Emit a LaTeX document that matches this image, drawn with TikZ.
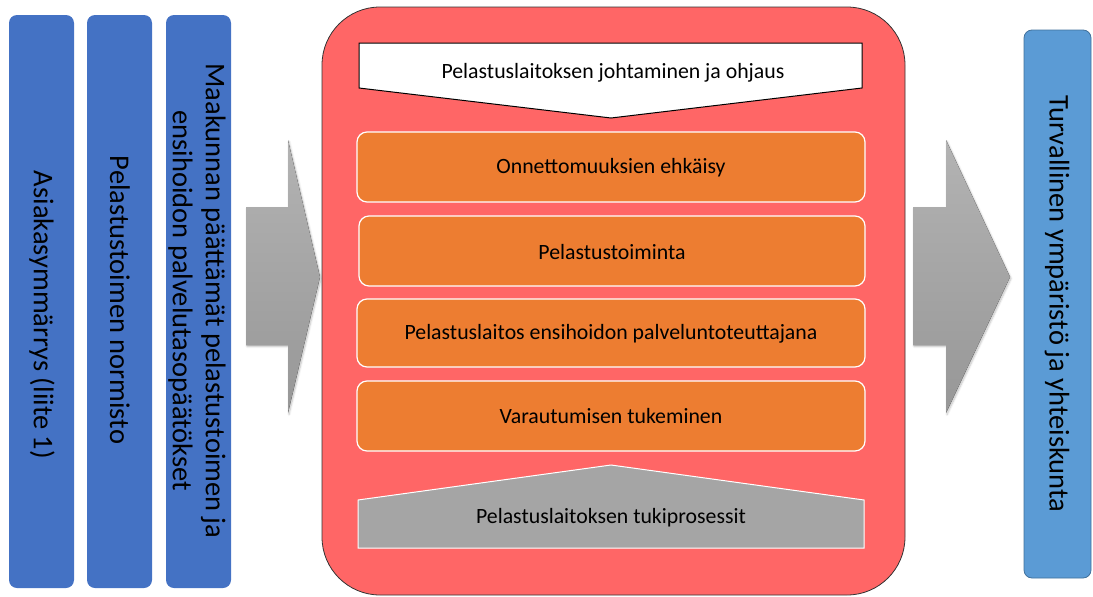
\documentclass[tikz,border=0pt]{standalone}
\usepackage{fontspec}
\setmainfont{Carlito}
\usetikzlibrary{shadows.blur}
\definecolor{barblue}{HTML}{4472C4}
\definecolor{outblue}{HTML}{5B9BD5}
\definecolor{outedge}{HTML}{41719C}
\definecolor{corered}{HTML}{FF6666}
\definecolor{procorange}{HTML}{ED7D31}
\definecolor{supportgray}{HTML}{A5A5A5}
\definecolor{arrowlight}{HTML}{B3B3B3}
\definecolor{arrowdark}{HTML}{979797}
\begin{document}
\begin{tikzpicture}[x=1pt,y=-1pt,
  inbar/.style={fill=barblue, draw=none, rounded corners=8pt},
  outbar/.style={fill=outblue, draw=outedge, line width=0.8pt, rounded corners=8pt},
  vtext/.style={rotate=-90, font=\fontsize{28.5}{33}\selectfont, align=center, text=black},
  procbox/.style={fill=procorange, draw=white, line width=1.2pt, rounded corners=10pt},
  ptext/.style={font=\fontsize{21.8}{26}\selectfont, text=black},
  blockarrow/.style={top color=arrowlight, bottom color=arrowdark, draw=none,
    blur shadow={shadow xshift=1pt, shadow yshift=-1.5pt, shadow blur steps=6, shadow opacity=25}}
]
\useasboundingbox (0,0) rectangle (1093,597);

% inputs
\draw[inbar] (9,15) rectangle (74,588);
\draw[inbar] (87,15) rectangle (152,588);
\draw[inbar] (166,15) rectangle (231,588);
\node[vtext] (asiakas) at (42,315) {Asiakasymmärrys (liite 1)};
\node[vtext] (normisto) at (120,300) {Pelastustoimen normisto};
\node[vtext] (paatokset) at (197,301) {Maakunnan päättämät pelastustoimen ja\\ensihoidon palvelutasopäätökset};

% block arrows
\fill[blockarrow] (246,207) -- (288,207) -- (288,140) -- (320,277) -- (288,413) -- (288,345) -- (246,345) -- cycle;
\fill[blockarrow] (913,207) -- (946,207) -- (946,140) -- (1010,277) -- (946,413) -- (946,345) -- (913,345) -- cycle;

% rescue department core
\draw[fill=corered, draw=black!80, line width=0.8pt, rounded corners=58pt] (322,7) rectangle (905,595);

% management chevron
\draw[fill=white, draw=black, line width=1pt] (359,43) -- (862,43) -- (862,88) -- (611,118) -- (359,88) -- cycle;
\node[ptext] (johto) at (613,73) {Pelastuslaitoksen johtaminen ja ohjaus};

% core processes
\draw[procbox] (357,132) rectangle (865,202);
\node[ptext] (ehkaisy) at (611,168) {Onnettomuuksien ehkäisy};
\draw[procbox] (359,216) rectangle (865,286);
\node[ptext] (toiminta) at (612,252) {Pelastustoiminta};
\draw[procbox] (357,299) rectangle (865,367);
\node[ptext] (ensihoito) at (611,334) {Pelastuslaitos ensihoidon palveluntoteuttajana};
\draw[procbox] (357,381) rectangle (865,451);
\node[ptext] (varautuminen) at (611,416) {Varautumisen tukeminen};

% support processes
\draw[fill=supportgray, draw=white, line width=1pt] (358,500) -- (611,465) -- (864,500) -- (864,548) -- (358,548) -- cycle;
\node[ptext] (tuki) at (611,518) {Pelastuslaitoksen tukiprosessit};

% outcome
\draw[outbar] (1024,30) rectangle (1091,578);
\node[vtext] (tulos) at (1057,304) {Turvallinen ympäristö ja yhteiskunta};
\end{tikzpicture}
\end{document}
